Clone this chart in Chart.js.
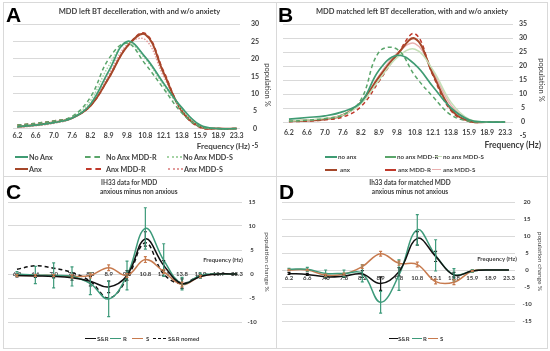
<!DOCTYPE html>
<html>
<head>
<meta charset="utf-8">
<script src="https://cdn.jsdelivr.net/npm/chart.js@4.4.1/dist/chart.umd.min.js"></script>
<style>
  body { margin: 0; background: #fff; }
  #fig { position: relative; width: 550px; height: 351px; overflow: hidden; font-family: Lato, "Open Sans", sans-serif; color: #404040; }
  .box { position: absolute; border: 1px solid #d9d9d9; box-sizing: border-box; }
  canvas { position: absolute; }
  .t { position: absolute; white-space: nowrap; font-weight: bold; line-height: 1; }
  .letter { position: absolute; font: bold 21px "Liberation Sans", Arial, sans-serif; color: #000; line-height: 1; }
  .sw { position: absolute; height: 0; }
</style>
</head>
<body>
<div id="fig">
  <div class="box" style="left:3px;top:2px;width:274px;height:175px"></div>
  <div class="box" style="left:276px;top:2px;width:272px;height:175px"></div>
  <div class="box" style="left:3px;top:176px;width:274px;height:173px"></div>
  <div class="box" style="left:276px;top:176px;width:272px;height:173px"></div>

  <canvas id="chartA" width="273" height="173" style="left:3px;top:2px"></canvas>
  <canvas id="chartB" width="272" height="173" style="left:276px;top:2px"></canvas>
  <canvas id="chartC" width="273" height="173" style="left:3px;top:176px"></canvas>
  <canvas id="chartD" width="272" height="173" style="left:276px;top:176px"></canvas>

  <!-- panel A -->
  <div class="letter" style="left:6px;top:4px">A</div>
  <div class="t" style="left:3px;top:8px;width:273px;text-align:center;font-size:7.5px">MDD left BT decelleration, with and w/o anxiety</div>
  <div class="t" style="left:145px;top:142px;width:105px;text-align:right;font-size:8px">Frequency (Hz)</div>
  <div class="sw" style="left:15px;top:156px;width:13px;border-top:2px solid #3f9b73"></div>
  <div class="t" style="left:29px;top:153.5px;font-size:7.2px">No Anx</div>
  <div class="sw" style="left:85px;top:156px;width:15px;border-top:2px dashed #5aa56a"></div>
  <div class="t" style="left:106px;top:153.5px;font-size:7.2px">No Anx MDD-R</div>
  <div class="sw" style="left:167px;top:156px;width:15px;border-top:2px dotted #a5d3a5"></div>
  <div class="t" style="left:183px;top:153.5px;font-size:7.2px">No Anx MDD-S</div>
  <div class="sw" style="left:15px;top:168px;width:13px;border-top:2px solid #a5472a"></div>
  <div class="t" style="left:29px;top:165.5px;font-size:7.2px">Anx</div>
  <div class="sw" style="left:86px;top:168px;width:15px;border-top:2px dashed #c0392b"></div>
  <div class="t" style="left:106px;top:165.5px;font-size:7.2px">Anx MDD-R</div>
  <div class="sw" style="left:168px;top:168px;width:15px;border-top:2px dotted #e29a9a"></div>
  <div class="t" style="left:184px;top:165.5px;font-size:7.2px">Anx MDD-S</div>

  <!-- panel B -->
  <div class="letter" style="left:278px;top:4px">B</div>
  <div class="t" style="left:276px;top:8px;width:272px;text-align:center;font-size:7.5px">MDD matched left BT decelleration, with and w/o anxiety</div>
  <div class="t" style="left:430px;top:141px;width:111px;text-align:right;font-size:8.5px">Frequency (Hz)</div>
  <div class="sw" style="left:325px;top:156px;width:12px;border-top:2px solid #3f9b73"></div>
  <div class="t" style="left:338px;top:153.5px;font-size:6.2px">no anx</div>
  <div class="sw" style="left:385px;top:156px;width:11px;border-top:2px dashed #5aa56a"></div>
  <div class="t" style="left:397px;top:153.5px;font-size:6.2px">no anx MDD-R</div>
  <div class="sw" style="left:435px;top:156px;width:7px;border-top:1.5px solid #c5e0b8"></div>
  <div class="t" style="left:443px;top:153.5px;font-size:6.2px">no anx MDD-S</div>
  <div class="sw" style="left:325px;top:169px;width:12px;border-top:2px solid #a5472a"></div>
  <div class="t" style="left:340px;top:166.5px;font-size:6.2px">anx</div>
  <div class="sw" style="left:385px;top:169px;width:11px;border-top:2px dashed #c0392b"></div>
  <div class="t" style="left:398px;top:166.5px;font-size:6.2px">anx MDD-R</div>
  <div class="sw" style="left:432px;top:169px;width:9px;border-top:1.5px solid #eab0b0"></div>
  <div class="t" style="left:443px;top:166.5px;font-size:6.2px">anx MDD-S</div>

  <!-- panel C -->
  <div class="letter" style="left:6px;top:181px">C</div>
  <div class="t" style="left:101px;top:180px;font-size:6.5px">IH33 data for MDD</div>
  <div class="t" style="left:100px;top:189px;font-size:6.5px">anxious minus non anxious</div>
  <div class="t" style="left:160px;top:257px;width:83px;text-align:right;font-size:6px">Frequency (Hz)</div>
  <div class="sw" style="left:85px;top:338px;width:11px;border-top:1.5px solid #111"></div>
  <div class="t" style="left:97px;top:336px;font-size:6px">S&amp;R</div>
  <div class="sw" style="left:110px;top:338px;width:11px;border-top:1.5px solid #3d9a7a"></div>
  <div class="t" style="left:123px;top:336px;font-size:6px">R</div>
  <div class="sw" style="left:132px;top:338px;width:11px;border-top:1.5px solid #c77a4e"></div>
  <div class="t" style="left:146px;top:336px;font-size:6px">S</div>
  <div class="sw" style="left:153px;top:338px;width:13px;border-top:1.5px dashed #111"></div>
  <div class="t" style="left:168px;top:336px;font-size:6px">S&amp;R nomed</div>

  <!-- panel D -->
  <div class="letter" style="left:279px;top:181px">D</div>
  <div class="t" style="left:274px;top:180px;width:272px;text-align:center;font-size:6.5px">Ih33 data for matched MDD</div>
  <div class="t" style="left:274px;top:189px;width:272px;text-align:center;font-size:6.5px">anxious minus not anxious</div>
  <div class="t" style="left:430px;top:256px;width:87px;text-align:right;font-size:6px">Frequency (Hz)</div>
  <div class="sw" style="left:389px;top:338px;width:9px;border-top:1.5px solid #111"></div>
  <div class="t" style="left:398px;top:336px;font-size:6px">S&amp;R</div>
  <div class="sw" style="left:412px;top:338px;width:10px;border-top:1.5px solid #3d9a7a"></div>
  <div class="t" style="left:423px;top:336px;font-size:6px">R</div>
  <div class="sw" style="left:428px;top:338px;width:10px;border-top:1.5px solid #c77a4e"></div>
  <div class="t" style="left:440px;top:336px;font-size:6px">S</div>
</div>

<script>
// frequency bins (Hz), shared by every panel
const freqLabels = ['6.2', '6.6', '7.0', '7.6', '8.2', '8.9', '9.8', '10.8', '12.1', '13.8', '15.9', '18.9', '23.3'];

// A: MDD left BT deceleration, population %
const aNoAnx  = [0.5, 1.0, 1.7, 3.0, 7.0, 16.5, 25.0, 20.5, 13.0, 6.0, 1.0, 0, 0];
const aNoAnxR = [1.0, 1.5, 2.2, 3.5, 9.0, 20.0, 24.5, 18.5, 11.5, 4.5, 0.5, 0, 0];
const aNoAnxS = [0.5, 1.0, 1.8, 3.2, 8.0, 18.0, 24.5, 20.0, 12.5, 5.5, 0.8, 0, 0];
const aAnx    = [0.5, 1.0, 1.8, 3.0, 6.5, 14.5, 23.5, 27.0, 16.0, 5.0, 0.5, 0, 0];
const aAnxR   = [1.0, 1.5, 2.2, 3.2, 6.5, 14.5, 23.5, 27.3, 16.5, 5.0, 0.3, 0, 0];
const aAnxS   = [0.3, 0.8, 1.5, 3.0, 7.0, 15.5, 24.0, 25.5, 15.0, 5.5, 0.5, 0, 0];

// B: matched MDD, population %
const bNoAnx  = [1.0, 1.6, 2.2, 3.7, 7.0, 18.5, 23.8, 20.5, 12.6, 5.0, 0.8, 0, 0];
const bNoAnxR = [0.3, 0.6, 1.2, 2.5, 8.0, 25.0, 26.0, 16.5, 9.0, 2.5, 0.3, 0, 0];
const bNoAnxS = [0.3, 0.7, 1.3, 2.5, 6.5, 15.0, 23.0, 26.0, 18.5, 7.0, 1.0, 0, 0];
const bAnx    = [0.3, 0.5, 1.0, 2.5, 7.0, 16.0, 24.0, 29.8, 17.0, 4.5, 0.3, 0, 0];
const bAnxR   = [0.1, 0.3, 0.8, 1.8, 5.5, 14.5, 24.0, 31.5, 16.5, 4.0, 0.2, 0, 0];
const bAnxS   = [0.3, 0.6, 1.2, 2.5, 7.0, 16.5, 24.5, 28.0, 18.0, 6.0, 0.8, 0, 0];

// C: IH33 MDD, anxious minus non anxious (population change %)
const cSR    = [-0.3, -0.4, -0.5, -0.8, -1.5, -2.7, -0.3, 7.3, 1.8, -2.0, -0.5, 0, 0];
const cR     = [0, -0.2, -0.3, -0.5, -2.0, -5.2, -0.3, 9.5, 2.9, -2.0, -0.3, 0, 0];
const cS     = [-0.3, -0.3, -0.3, -0.5, -0.3, 1.3, -0.3, 3.0, 0.5, -2.2, -0.5, 0, 0];
const cSRnom = [1.0, 1.7, 1.2, 0.3, -1.5, -5.0, -1.0, 6.5, 0, -2.0, -0.3, 0, 0];
const cErrSR = [0.3, 0.3, 0.3, 0.5, 1.0, 1.2, 1.0, 1.5, 1.0, 1.0, 0.3, 0, 0];
const cErrR  = [0.5, 1.8, 2.6, 2.0, 2.3, 3.7, 3.0, 4.3, 3.4, 1.3, 0.5, 0, 0];
const cErrS  = [0.2, 0.2, 0.2, 0.3, 0.5, 0.6, 0.4, 0.6, 0.4, 0.5, 0.2, 0, 0];

// D: Ih33 matched MDD, anxious minus not anxious
const dSR    = [-1.0, -1.3, -2.0, -1.8, -1.2, -4.0, -0.5, 9.3, 4.0, -1.5, -0.3, 0, 0];
const dR     = [0.2, 0.2, -1.0, -1.0, -1.0, -9.5, -1.5, 11.8, 4.3, -1.4, -0.3, 0, 0];
const dS     = [0, 0, -1.5, -1.2, 1.0, 4.8, 2.0, 1.6, -3.4, -3.6, -0.3, 0, 0];
const dErrSR = [0.3, 0.3, 0.4, 0.4, 1.0, 2.0, 1.2, 2.0, 1.5, 0.8, 0.2, 0, 0];
const dErrR  = [0.3, 0.6, 1.0, 1.0, 2.5, 3.2, 4.5, 4.5, 4.6, 1.8, 0.4, 0, 0];
const dErrS  = [0.2, 0.2, 0.3, 0.3, 0.5, 0.7, 0.6, 0.7, 0.7, 0.7, 0.2, 0, 0];

const GREEN = '#3f9b73', GREEN_D = '#5aa56a', GREEN_L = '#a5d3a5';
const RED = '#a5472a', RED_D = '#c0392b', PINK = '#e29a9a';
const BLACK = '#111111', TEAL = '#3d9a7a', ORANGE = '#c77a4e';

// vertical error bars, drawn from the scales
const errorBars = {
    id: 'errorBars',
    afterDatasetsDraw(chart) {
        const { ctx, scales: { x, y } } = chart;
        chart.data.datasets.forEach(ds => {
            if (!ds.errors) return;
            ctx.save();
            ctx.strokeStyle = ds.borderColor;
            ctx.lineWidth = 1.2;
            ds.data.forEach((p, j) => {
                const e = ds.errors[j];
                if (!e) return;
                const px = x.getPixelForValue(p.x);
                const top = y.getPixelForValue(p.y + e);
                const bot = y.getPixelForValue(p.y - e);
                ctx.beginPath();
                ctx.moveTo(px, top); ctx.lineTo(px, bot);
                ctx.moveTo(px - 1.5, top); ctx.lineTo(px + 1.5, top);
                ctx.moveTo(px - 1.5, bot); ctx.lineTo(px + 1.5, bot);
                ctx.stroke();
            });
            ctx.restore();
        });
    }
};

function makeChart(id, cfg) {
    const font = (size, weight) => ({ family: 'Lato', size: size, weight: weight });
    return new Chart(document.getElementById(id), {
        type: 'line',
        data: {
            datasets: cfg.series.map(s => ({
                label: s.label,
                data: s.values.map((v, i) => ({ x: i, y: v })),
                errors: s.errors,
                borderColor: s.color,
                borderWidth: s.width || 1.5,
                borderDash: s.dash || [],
                pointRadius: 0,
                tension: 0.4,
                fill: false
            }))
        },
        options: {
            responsive: false,
            animation: false,
            layout: { padding: cfg.pad },
            plugins: { legend: { display: false }, tooltip: { enabled: false } },
            scales: {
                x: {
                    type: 'linear',
                    position: { y: 0 },
                    min: cfg.xMin, max: cfg.xMax,
                    grid: { display: false, drawTicks: false },
                    border: { display: false },
                    ticks: {
                        stepSize: 1, includeBounds: false, autoSkip: false, maxRotation: 0,
                        padding: cfg.xPad, color: '#404040', font: font(cfg.tick, 'bold'),
                        callback: v => freqLabels[v]
                    }
                },
                y: {
                    position: 'right',
                    min: cfg.yMin, max: cfg.yMax,
                    afterFit: s => { s.width = cfg.yWidth; },
                    grid: {
                        drawTicks: false,
                        color: c => (cfg.hideBottom && c.tick && c.tick.value === cfg.yMin) ? 'rgba(0,0,0,0)' : '#d9d9d9'
                    },
                    border: { display: false },
                    ticks: { stepSize: 5, padding: cfg.yPad, crossAlign: 'center', color: '#404040', font: font(cfg.tick, 'bold') },
                    title: { display: true, text: cfg.yTitle, padding: 0, color: '#404040', font: font(cfg.yTitleSize, 'normal') }
                }
            }
        },
        plugins: [errorBars]
    });
}

makeChart('chartA', {
    series: [
        { label: 'No Anx', values: aNoAnx, color: GREEN, width: 1.7 },
        { label: 'No Anx MDD-R', values: aNoAnxR, color: GREEN_D, dash: [4, 3] },
        { label: 'No Anx MDD-S', values: aNoAnxS, color: GREEN_L, dash: [1.5, 1.5] },
        { label: 'Anx', values: aAnx, color: RED, width: 2 },
        { label: 'Anx MDD-R', values: aAnxR, color: RED_D, dash: [4, 3] },
        { label: 'Anx MDD-S', values: aAnxS, color: PINK, dash: [1.5, 1.5] }
    ],
    pad: { left: 10, top: 22, right: 4, bottom: 29 },
    xMin: -0.235, xMax: 12.18, xPad: 3,
    yMin: -5, yMax: 30, yWidth: 32, yPad: 11, hideBottom: true,
    tick: 7, yTitle: 'population %', yTitleSize: 7.5
});

makeChart('chartB', {
    series: [
        { label: 'no anx', values: bNoAnx, color: GREEN, width: 1.7 },
        { label: 'no anx MDD-R', values: bNoAnxR, color: GREEN_D, dash: [4, 3] },
        { label: 'no anx MDD-S', values: bNoAnxS, color: '#c5e0b8', width: 1.5 },
        { label: 'anx', values: bAnx, color: RED, width: 2 },
        { label: 'anx MDD-R', values: bAnxR, color: RED_D, dash: [4, 3] },
        { label: 'anx MDD-S', values: bAnxS, color: '#eab0b0', width: 1.5 }
    ],
    pad: { left: 7, top: 22, right: 2, bottom: 39 },
    xMin: -0.33, xMax: 12.44, xPad: 7,
    yMin: -5, yMax: 35, yWidth: 33, yPad: 6, hideBottom: true,
    tick: 7, yTitle: 'population %', yTitleSize: 7.5
});

makeChart('chartC', {
    series: [
        { label: 'S&R', values: cSR, errors: cErrSR, color: BLACK },
        { label: 'R', values: cR, errors: cErrR, color: TEAL },
        { label: 'S', values: cS, errors: cErrS, color: ORANGE },
        { label: 'S&R nomed', values: cSRnom, color: BLACK, dash: [4, 3] }
    ],
    pad: { left: 5, top: 26, right: 5, bottom: 27 },
    xMin: -0.49, xMax: 12.27, xPad: -3.5,
    yMin: -10, yMax: 15, yWidth: 29, yPad: 5.5, hideBottom: false,
    tick: 6, yTitle: 'population change %', yTitleSize: 6.5
});

makeChart('chartD', {
    series: [
        { label: 'S&R', values: dSR, errors: dErrSR, color: BLACK },
        { label: 'R', values: dR, errors: dErrR, color: TEAL },
        { label: 'S', values: dS, errors: dErrS, color: ORANGE }
    ],
    pad: { left: 6, top: 26, right: 4, bottom: 28 },
    xMin: -0.38, xMax: 12.33, xPad: 4.5,
    yMin: -15, yMax: 20, yWidth: 29, yPad: 7.5, hideBottom: false,
    tick: 6, yTitle: 'population change %', yTitleSize: 6.5
});
</script>
</body>
</html>
